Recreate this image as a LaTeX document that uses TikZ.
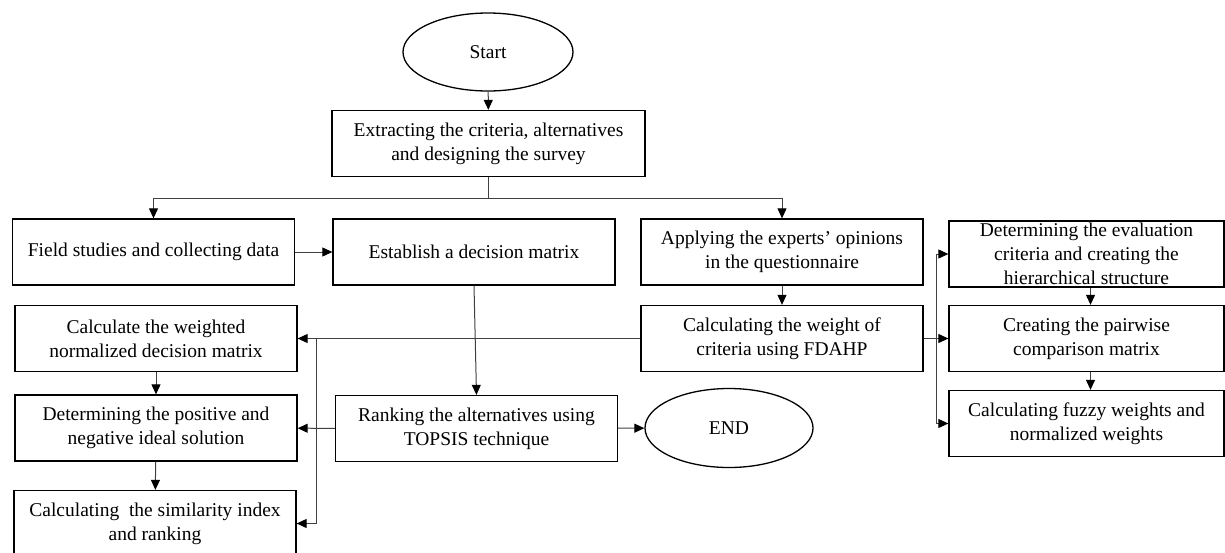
\documentclass[tikz,border=0pt]{standalone}
\usepackage{fontspec}
\setmainfont{Liberation Serif}
\usetikzlibrary{arrows.meta,shapes.geometric}
\tikzset{box/.style={draw=black,line width=0.65pt,align=center,minimum width=141pt,minimum height=33pt,inner xsep=2pt,inner ysep=0pt,font=\fontsize{9.75}{12.15}\selectfont},term/.style={ellipse,draw=black,line width=0.65pt,inner sep=0pt,font=\fontsize{9.75}{12.15}\selectfont},arr/.style={-{Triangle[length=5pt,width=4.5pt,color=black]},draw=black!75,line width=0.5pt},ln/.style={draw=black!75,line width=0.5pt}}
\begin{document}
\begin{tikzpicture}[x=0.5pt,y=-0.5pt]
\useasboundingbox (0,0) rectangle (1225,552);
\clip (0,0) rectangle (1225,552);
\node[term,minimum width=85pt,minimum height=39pt] (start) at (488,52) {Start};
\node[box,minimum width=156.5pt] (extract) at (488.5,143.5) {Extracting the criteria, alternatives\\and designing the survey};
\foreach \x/\y/\id/\txt in {153.5/252/field/{Field studies and collecting data},474/252/establish/{Establish a decision matrix},782/252/apply/{Applying the experts’ opinions\\in the questionnaire},156/338.5/weighted/{Calculate the weighted\\normalized decision matrix},782/338.5/weight/{Calculating the weight of\\criteria using FDAHP},156/428/ideal/{Determining the positive and\\negative ideal solution},476.5/428.5/rank/{Ranking the alternatives using\\TOPSIS technique},155/523.5/sim/{Calculating~ the similarity index\\and ranking}}{\node[box] (\id) at (\x,\y) {\txt};}
% right column
\foreach \y/\id/\txt in {254/deteval/{Determining the evaluation\\criteria and creating the\\hierarchical structure},338.5/pair/{Creating the pairwise\\comparison matrix},423.5/fuzzy/{Calculating fuzzy weights and\\normalized weights}}{\node[box,minimum width=137.5pt] (\id) at (1086.5,\y) {\txt};}
\node[term,minimum width=84pt,minimum height=39.5pt] (endnode) at (729,428) {END};
% top split
\draw[arr] (start) -- (extract);
\draw[ln] (extract.south) -- ++(0,21) coordinate (split);
\draw[arr] (split) -| (field.north);
\draw[arr] (split) -| (apply.north);
\draw[arr] (field) -- (establish);
\draw[arr] (establish.south) -- (rank.north);
\draw[arr] (apply) -- (weight);
% left branch
\draw[arr] (weight.west) -- (weighted.east);
\coordinate (lsplit) at (316,338.5);
\draw[arr] (lsplit) |- (sim.east);
\draw[arr] (weighted) -- (ideal);
\draw[arr] (ideal) -- (sim);
\draw[arr] (rank) -- (ideal);
\draw[arr] (rank) -- (endnode);
% right branch
\coordinate (rsplit) at (936,338.5);
\draw[arr] (weight.east) -- (pair.west);
\draw[arr] (rsplit) |- (deteval.west);
\draw[arr] (rsplit) |- (fuzzy.west);
\draw[arr] ([xshift=2pt]deteval.south) -- ([xshift=2pt]pair.north);
\draw[arr] ([xshift=2pt]pair.south) -- ([xshift=2pt]fuzzy.north);
\end{tikzpicture}
\end{document}
